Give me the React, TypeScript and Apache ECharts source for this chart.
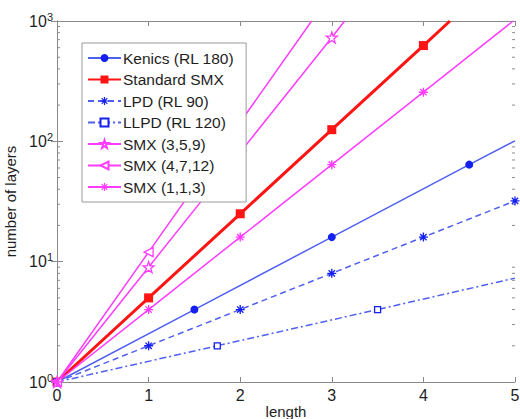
import React, { useEffect, useRef } from "react";
import * as echarts from "echarts";

// ---- data ----
const kenicsX = [0, 1.5, 3, 4.5, 5];
const kenicsY = [1, 4, 16, 64, 101];
const kenicsMarked = [true, true, true, true, false];

const smxStdX = [0, 1, 2, 3, 4, 4.29];
const smxStdY = [1, 5, 25, 125, 625, 1000];
const smxStdMarked = [true, true, true, true, true, false];

const lpdX = [0, 1, 2, 3, 4, 5];
const lpdY = [1, 2, 4, 8, 16, 32];
const lpdMarked = [true, true, true, true, true, true];

const llpdX = [0, 1.75, 3.5, 5];
const llpdY = [1, 2, 4, 7.3];
const llpdMarked = [true, true, true, false];

const smx359X = [0, 1, 2, 3, 3.14];
const smx359Y = [1, 9, 81, 729, 1000];
const smx359Marked = [true, true, true, true, false];

const smx4712X = [0, 1, 2, 2.78];
const smx4712Y = [1, 12, 144, 1000];
const smx4712Marked = [true, true, true, false];

const smx113X = [0, 1, 2, 3, 4, 4.98];
const smx113Y = [1, 4, 16, 64, 256, 1000];
const smx113Marked = [true, true, true, true, true, false];

const xTicks = [0, 1, 2, 3, 4, 5];
const yMinorTicks = [2, 3, 4, 5, 6, 7, 8, 9, 20, 30, 40, 50, 60, 70, 80, 90, 200, 300, 400, 500, 600, 700, 800, 900];

const names = [
  "Kenics (RL 180)",
  "Standard SMX",
  "LPD (RL 90)",
  "LLPD (RL 120)",
  "SMX (3,5,9)",
  "SMX (4,7,12)",
  "SMX (1,1,3)",
];

const BLUE = "#4f60f0";
const BLUE_M = "#1420f0";
const RED = "#ff1414";
const MAG = "#ff3cff";
const AX = "#8a8a8a";
const TXT = "#1e1e1e";
const FONT = "Liberation Sans";

const ASTERISK =
  "path://M-1.5,-10h3v20h-3z M-10,-1.5h20v3h-20z M-8.1,-6 L-6,-8.1 L8.1,6 L6,8.1 Z M6,-8.1 L8.1,-6 L-6,8.1 L-8.1,6 Z";
const STAR =
  "path://M0,-10 L2.35,-3.24 L9.51,-3.09 L3.8,1.24 L5.88,8.09 L0,4 L-5.88,8.09 L-3.8,1.24 L-9.51,-3.09 L-2.35,-3.24 Z";

function pts(xs: number[], ys: number[], marked: boolean[]) {
  return xs.map((x, i) =>
    marked[i] ? { value: [x, ys[i]] } : { value: [x, ys[i]], symbol: "none" }
  );
}

export default function App() {
  const ref = useRef<HTMLDivElement>(null);
  useEffect(() => {
    if (!ref.current) return;
    const chart = echarts.init(ref.current, null, { renderer: "svg" });
    const line = (
      name: string,
      data: any[],
      color: string,
      mColor: string,
      width: number,
      type: any,
      symbol: string,
      size: number,
      hollow: boolean,
      rotate = 0
    ) => ({
      name,
      type: "line",
      data,
      symbol,
      symbolSize: size,
      symbolRotate: rotate,
      showAllSymbol: true,
      clip: true,
      z: 2,
      lineStyle: { color, width, type },
      itemStyle: hollow
        ? { color: "#ffffff", borderColor: mColor, borderWidth: 1.3 }
        : { color: mColor, borderWidth: 0 },
      emphasis: { disabled: true },
    });

    const option: any = {
      animation: false,
      grid: { left: 57, right: 5, top: 21, bottom: 37, containLabel: false, outerBoundsMode: "none" },
      legend: {
        data: names,
        orient: "vertical",
        left: 82,
        top: 43,
        padding: [7, 12, 7, 5],
        itemGap: 5.5,
        itemWidth: 33,
        itemHeight: 10,
        backgroundColor: "#ffffff",
        borderColor: "#9a9a9a",
        borderWidth: 1,
        z: 20,
        zlevel: 1,
        textStyle: { fontFamily: FONT, fontSize: 15.5, lineHeight: 14, color: TXT, padding: [0, 0, 0, -3] },
      },
      xAxis: [
        {
          type: "value",
          min: 0,
          max: 5,
          interval: 1,
          name: "length",
          nameLocation: "middle",
          nameGap: 22,
          nameMoveOverlap: false,
          nameTextStyle: { fontFamily: FONT, fontSize: 15, color: TXT },
          axisLine: { show: true, lineStyle: { color: AX, width: 1 } },
          axisTick: { show: true, inside: true, length: 5, lineStyle: { color: AX } },
          axisLabel: { fontFamily: FONT, fontSize: 16, color: TXT, margin: 5, formatter: (v: number) => (xTicks.includes(v) ? String(v) : "") },
          splitLine: { show: false },
        },
        {
          type: "value",
          min: 0,
          max: 5,
          interval: 1,
          position: "top",
          axisLine: { show: true, lineStyle: { color: AX, width: 1 } },
          axisTick: { show: true, inside: true, length: 5, lineStyle: { color: AX } },
          axisLabel: { show: false },
          splitLine: { show: false },
        },
      ],
      yAxis: [
        {
          type: "log",
          logBase: 10,
          min: 1,
          max: 1000,
          name: "number of layers",
          nameLocation: "middle",
          nameGap: 33,
          nameTextStyle: { fontFamily: FONT, fontSize: 15, color: TXT },
          axisLine: { show: true, lineStyle: { color: AX, width: 1 } },
          axisTick: { show: true, inside: true, length: 6, lineStyle: { color: AX } },
          axisLabel: {
            margin: 4,
            formatter: (v: number) => `{b|10}{s|${Math.round(Math.log10(v))}}`,
            rich: {
              b: { fontFamily: FONT, fontSize: 16, color: TXT },
              s: { fontFamily: FONT, fontSize: 11, color: TXT, padding: [0, 0, 9, 0] },
            },
          },
          splitLine: { show: false },
        },
        {
          type: "log",
          logBase: 10,
          min: 1,
          max: 1000,
          position: "right",
          axisLine: { show: true, lineStyle: { color: AX, width: 1 } },
          axisTick: { show: true, inside: true, length: 6, lineStyle: { color: AX } },
          axisLabel: { show: false },
          splitLine: { show: false },
        },
      ],
      series: [
        {
          type: "custom",
          name: "minorTicks",
          silent: true,
          z: 1,
          data: yMinorTicks.map((v) => [0, v]),
          renderItem: (params: any, api: any) => {
            const p = api.coord([0, api.value(1)]);
            const cs = params.coordSys;
            const st = { stroke: AX, lineWidth: 1 };
            return {
              type: "group",
              children: [
                { type: "line", shape: { x1: cs.x, y1: p[1], x2: cs.x + 3, y2: p[1] }, style: st },
                { type: "line", shape: { x1: cs.x + cs.width - 3, y1: p[1], x2: cs.x + cs.width, y2: p[1] }, style: st },
              ],
            };
          },
        },
        line(names[0], pts(kenicsX, kenicsY, kenicsMarked), BLUE, BLUE_M, 1.5, "solid", "circle", 8, false),
        line(names[1], pts(smxStdX, smxStdY, smxStdMarked), RED, RED, 3, "solid", "rect", 9, false),
        line(names[2], pts(lpdX, lpdY, lpdMarked), BLUE, BLUE_M, 1.5, [6, 4], ASTERISK, 9, false),
        line(names[3], pts(llpdX, llpdY, llpdMarked), BLUE, BLUE_M, 1.5, [7, 3, 2, 3], "rect", 6, true),
        line(names[4], pts(smx359X, smx359Y, smx359Marked), MAG, MAG, 1.5, "solid", STAR, 11, true),
        line(names[5], pts(smx4712X, smx4712Y, smx4712Marked), MAG, MAG, 1.5, "solid", "triangle", 9, true, 90),
        line(names[6], pts(smx113X, smx113Y, smx113Marked), MAG, MAG, 1.5, "solid", ASTERISK, 9, false),
      ],
    };
    chart.setOption(option);
    return () => chart.dispose();
  }, []);
  return (
    <div
      ref={ref}
      style={{ position: "absolute", left: 0, top: 0, width: 520, height: 419, background: "#fff" }}
    />
  );
}
